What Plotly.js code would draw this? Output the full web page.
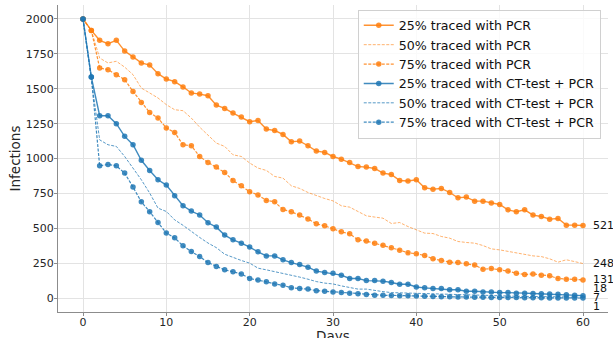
<!DOCTYPE html>
<html>
<head>
<meta charset="utf-8">
<script src="https://cdn.plot.ly/plotly-3.0.1.min.js"></script>
<style>html,body{margin:0;padding:0;background:#fff;}#chart{width:613px;height:338px;}</style>
</head>
<body>
<div id="chart"></div>
<script>
const days = Array.from({length: 61}, (_, i) => i);

const pcr25 = [2000,1918,1847,1823,1847,1770,1728,1685,1670,1608,1570,
  1551,1513,1470,1462,1450,1383,1359,1326,1297,1264,
  1273,1211,1201,1173,1120,1125,1092,1054,1044,1015,
  996,972,943,939,929,896,886,843,839,848,
  791,781,786,757,719,724,695,695,681,671,
  633,619,633,595,585,566,571,523,523,521];

const pcr50 = [2000,1918,1720,1685,1697,1655,1601,1505,1470,1434,1386,
  1350,1343,1290,1225,1171,1111,1087,1027,1015,968,
  932,915,872,860,805,786,757,733,714,697,
  662,652,621,590,581,573,535,542,513,490,
  466,463,442,430,406,399,394,377,353,346,
  334,323,310,303,298,282,258,275,262,248];

const pcr75 = [2000,1918,1649,1637,1601,1565,1481,1402,1330,1290,1219,
  1187,1099,1092,1015,972,939,901,843,805,763,
  739,700,690,635,619,595,568,533,518,497,
  475,461,418,409,394,380,361,344,325,318,
  306,282,269,258,255,246,237,208,212,203,
  194,179,169,174,165,160,141,136,136,131];

const ct25 = [2000,1584,1307,1307,1250,1159,1099,988,915,848,810,
  733,662,624,596,540,509,452,418,394,366,
  332,303,303,275,255,241,222,194,184,179,
  165,141,141,126,126,122,112,100,100,80,
  74,69,69,60,60,50,50,45,45,40,
  40,36,36,34,31,30,28,24,21,18];

const ct50 = [2000,1584,1134,1099,1087,1015,932,848,753,645,621,
  561,522,477,435,395,362,315,290,270,251,
  215,203,191,179,167,151,136,119,108,102,
  88,76,65,65,54,47,40,38,36,33,
  31,29,27,25,23,21,20,19,17,16,
  15,14,13,12,11,10,9,8,8,7];

const ct75 = [2000,1584,948,958,948,896,796,690,619,542,466,
  432,375,334,298,255,227,203,189,174,141,
  131,117,102,93,74,69,65,54,50,45,
  40,36,31,26,21,21,20,18,17,15,
  14,12,11,10,9,8,7,6,5,5,
  4,4,3,3,3,2,2,2,1,1];

const seriesNames = ["25% traced with PCR","50% traced with PCR","75% traced with PCR",
  "25% traced with CT-test + PCR","50% traced with CT-test + PCR","75% traced with CT-test + PCR"];
const endLabels = ["521","248","131","18","7","1"];
const xTicks = [0,10,20,30,40,50,60];
const yTicks = [0,250,500,750,1000,1250,1500,1750,2000];
const xTitle = "Days";
const yTitle = "Infections";

const ORANGE = "rgba(255,127,14,0.85)";
const ORANGE_L = "rgba(255,127,14,0.6)";
const BLUE = "rgba(31,119,180,0.85)";
const BLUE_L = "rgba(31,119,180,0.75)";

function tr(y, name, color, dash, markers, width) {
  return {
    x: days, y: y, name: name, type: "scatter",
    mode: markers ? "lines+markers" : "lines",
    line: {color: color, width: width, dash: dash},
    marker: {color: color, size: 5.5},
    hoverinfo: "skip"
  };
}

const data = [
  tr(pcr25, seriesNames[0], ORANGE, "solid", true, 1.4),
  tr(pcr50, seriesNames[1], ORANGE_L, "3px,1.5px", false, 1.0),
  tr(pcr75, seriesNames[2], ORANGE, "3px,1.5px", true, 1.2),
  tr(ct25, seriesNames[3], BLUE, "solid", true, 1.4),
  tr(ct50, seriesNames[4], BLUE_L, "3px,1.5px", false, 1.0),
  tr(ct75, seriesNames[5], BLUE, "3px,1.5px", true, 1.2)
];

const finals = [pcr25, pcr50, pcr75, ct25, ct50, ct75].map(a => a[a.length - 1]);
const shifts = [0, 0, 0, 7, 0, -8];
const annotations = finals.map((v, i) => ({
  x: 60, y: v, xref: "x", yref: "y", text: endLabels[i],
  showarrow: false, xanchor: "left", yanchor: "middle", xshift: 8, yshift: shifts[i],
  font: {family: "DejaVu Sans", size: 11, color: "#111"}
}));
annotations.push({
  x: 0.5, y: -0.045, xref: "paper", yref: "paper", text: xTitle,
  showarrow: false, xanchor: "center", yanchor: "top",
  font: {family: "DejaVu Sans", size: 13.5, color: "#262626"}
});

const layout = {
  width: 613, height: 338,
  margin: {l: 58, r: 5, t: 5, b: 26},
  paper_bgcolor: "#fff", plot_bgcolor: "#fff",
  font: {family: "DejaVu Sans", size: 11, color: "#262626"},
  showlegend: true,
  legend: {
    x: 0.545, y: 0.985, xanchor: "left", yanchor: "top",
    bgcolor: "rgba(255,255,255,0.8)", bordercolor: "#d0d0d0", borderwidth: 1,
    font: {family: "DejaVu Sans", size: 12.6, color: "#111"},
    tracegroupgap: 0, itemwidth: 30
  },
  xaxis: {
    range: [-3, 63], tickvals: xTicks, ticktext: xTicks.map(String),
    showgrid: true, gridcolor: "#e3e3e3", gridwidth: 1,
    zeroline: false, showline: true, linecolor: "#8c8c8c", linewidth: 1,
    ticks: "outside", ticklen: 3, tickcolor: "#8c8c8c", ticklabelstandoff: -3,
    tickfont: {family: "DejaVu Sans", size: 11, color: "#262626"}
  },
  yaxis: {
    range: [-99, 2100], tickvals: yTicks, ticktext: yTicks.map(String),
    showgrid: true, gridcolor: "#e3e3e3", gridwidth: 1,
    zeroline: false, showline: true, linecolor: "#8c8c8c", linewidth: 1,
    ticks: "outside", ticklen: 3, tickcolor: "#8c8c8c", ticklabelstandoff: -2,
    tickfont: {family: "DejaVu Sans", size: 11, color: "#262626"},
    title: {text: yTitle, font: {family: "DejaVu Sans", size: 13.5, color: "#262626"}, standoff: 2}
  },
  annotations: annotations
};

Plotly.newPlot("chart", data, layout, {displayModeBar: false, staticPlot: true});
</script>
</body>
</html>
